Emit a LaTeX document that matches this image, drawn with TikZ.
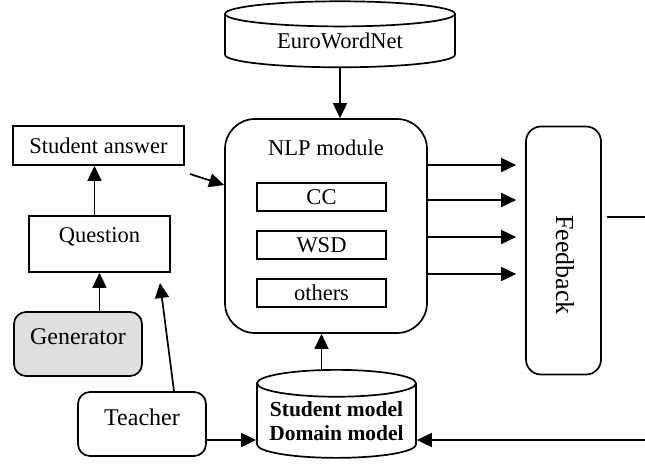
\documentclass[tikz,border=0pt]{standalone}
\usepackage{fontspec}
\setmainfont{Liberation Serif}
\usetikzlibrary{arrows.meta,shapes.geometric}

\begin{document}
\begin{tikzpicture}[
    x=1pt, y=-1pt, line width=1.7pt,
    every node/.style={font=\fontsize{22.5}{27}\selectfont},
    box/.style={draw, rectangle, inner sep=0pt},
    rbox/.style={draw, rectangle, rounded corners=12pt, inner sep=0pt},
    db/.style={draw, cylinder, shape border rotate=90, aspect=0.2, inner sep=0pt},
    big/.style={font=\fontsize{24}{28}\selectfont},
    arr/.style={-{Triangle[length=15pt,width=14pt]}}
  ]
  \useasboundingbox (0,0) rectangle (645,466);

  % resources
  \node[db, minimum width=230pt, minimum height=66pt] (ewn) at (340,41) {EuroWordNet};
  \node[db, minimum width=159pt, minimum height=88pt, align=center,
        font=\fontsize{21.5}{24}\selectfont\bfseries] (sdm) at (336.5,421) {Student model\\Domain model};

  % NLP module and its parts
  \node[draw, rounded corners=30pt, minimum width=202pt, minimum height=214pt,
        label={[yshift=78pt]center:NLP module}] (nlp) at (326,226) {};
  \node[box, minimum width=129pt, minimum height=28pt] (cc) at (321.5,197) {CC};
  \node[box, minimum width=129pt, minimum height=28pt] (wsd) at (321.5,245) {WSD};
  \node[box, minimum width=129pt, minimum height=28pt] (oth) at (321.5,293) {others};

  \node[rbox, rounded corners=15pt, minimum width=75pt, minimum height=248pt] (fb) at (563.5,250.5) {};
  \node[rotate=-90, font=\fontsize{26}{30}\selectfont] (fbtxt) at (565,265) {Feedback};

  % left side
  \node[box, minimum width=171pt, minimum height=39pt] (sa) at (98.5,145.5) {Student answer};
  \node[box, minimum width=141pt, minimum height=56pt,
        label={[yshift=7pt]center:Question}] (q) at (99.5,244) {};
  \node[rbox, fill=gray!25, minimum width=128pt, minimum height=64pt,
        label={[big,yshift=7pt]center:Generator}] (gen) at (78,344) {};
  \node[rbox, minimum width=128pt, minimum height=64pt,
        label={[big,yshift=7pt]center:Teacher}] (teach) at (142,424) {};

  \coordinate (sain) at (190,174);
  \coordinate (qin) at (160,283);
  \coordinate (rtop) at (645,217);
  \coordinate (rbot) at (645,440);

  % connectors
  \draw[arr] (ewn.south) -- (ewn.south |- nlp.north);
  \draw[arr] (cc.center |- sdm.north) -- (cc.center |- nlp.south);
  \foreach \y in {165,200,237,274}
    \draw[arr, shorten >=9pt] (nlp.east |- 0,\y) -- (fb.west |- 0,\y);
  \draw[shorten <=5pt] (fb.east |- rtop) -- (rtop);
  \draw[arr] (rbot) -- (rbot -| sdm.east);
  \draw[arr] ([yshift=-16pt]teach.east) -- ([yshift=-16pt]teach.east -| sdm.west);
  \draw[arr] (q.south |- gen.north) -- (q.south);
  \draw[arr] ([xshift=-5pt]q.north) -- ([xshift=-5pt]q.north |- sa.south);
  \draw[arr] ([xshift=32pt]teach.north) -- (qin);
  \draw[arr] (sain) -- (nlp.west |- 0,185);
\end{tikzpicture}
\end{document}
